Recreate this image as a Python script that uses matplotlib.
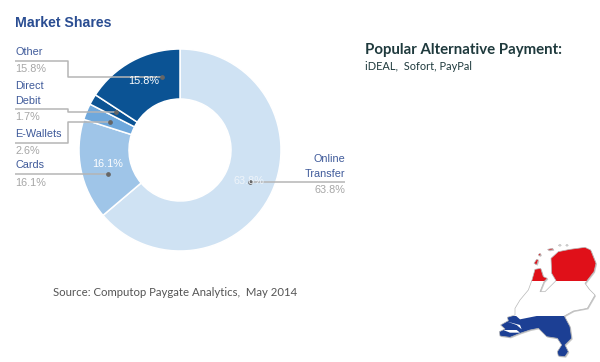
import matplotlib
matplotlib.use("Agg")
import matplotlib.pyplot as plt
from matplotlib.patches import Polygon, Rectangle

# Chart data
categories = ["Online Transfer", "Cards", "E-Wallets", "Direct Debit", "Other"]
shares = [63.8, 16.1, 2.6, 1.7, 15.8]
colors = ["#cfe2f3", "#9fc5e8", "#6fa8dc", "#0b5394", "#0b5394"]

SANS = "Liberation Sans"
NOTE = "Lato"
TEXT_BLUE = "#3f5a9a"
VALUE_GREY = "#a6a6a6"
LINE_GREY = "#b5b5b5"


def py(y):
    # picture pixels count from the top
    return 362 - y


fig = plt.figure(figsize=(6.0, 3.62), dpi=100)
ax = fig.add_axes([0, 0, 1, 1])

ax.pie(shares, colors=colors, center=(180, py(150)), radius=101, startangle=90,
       counterclock=False, wedgeprops=dict(width=50, edgecolor="white", linewidth=1.1))
ax.set_xlim(0, 600)
ax.set_ylim(0, 362)
ax.set_aspect("equal")
ax.axis("off")

ax.text(15, py(23), "Market Shares", fontsize=10.2, fontweight="bold", color="#2a4d92",
        family=SANS, va="center")


def leader(xs, ys):
    ax.plot(xs, [py(y) for y in ys], color=LINE_GREY, lw=1.1, zorder=5, solid_capstyle="butt")
    ax.plot(xs[-1], py(ys[-1]), "o", color="#666666", ms=2.4, zorder=6)


def label(x, y, text, color=TEXT_BLUE, ha="left"):
    ax.text(x, py(y), text, fontsize=7.8, color=color, family=SANS, ha=ha, va="center", zorder=7)


# Other
label(15, 52, "Other")
label(15, 69, f"{shares[4]}%", VALUE_GREY)
leader([15, 68, 68, 162], [61, 61, 76.5, 76.5])
label(128, 81, f"{shares[4]}%", "white")

# Direct Debit
label(15, 86, "Direct")
label(15, 101, "Debit")
label(15, 117, f"{shares[3]}%", VALUE_GREY)
leader([15, 68, 68, 116], [108.5, 108.5, 112, 112])

# E-Wallets
label(15, 134, "E-Wallets")
label(15, 151, f"{shares[2]}%", VALUE_GREY)
leader([15, 68, 68, 110], [143, 143, 122, 122])

# Cards
label(15, 165, "Cards")
label(15, 183, f"{shares[1]}%", VALUE_GREY)
leader([15, 108], [174, 174])
label(92, 164, f"{shares[1]}%", "white")

# Online Transfer
label(345, 159, "Online", ha="right")
label(345, 174, "Transfer", ha="right")
label(345, 190, f"{shares[0]}%", VALUE_GREY, ha="right")
label(233, 181, f"{shares[0]}%", "#eef4fa")
leader([345, 250], [182, 182])

# Right hand note and source
ax.text(365, py(50), "Popular Alternative Payment:", fontsize=10.8, fontweight="bold",
        color="#1f3a3d", family=NOTE, va="center")
ax.text(365, py(67), "iDEAL,  Sofort, PayPal", fontsize=7.9, color="#1f3a3d",
        family=NOTE, va="center")
ax.text(53, py(292), "Source: Computop Paygate Analytics,  May 2014", fontsize=8.2,
        color="#555555", family=NOTE, va="center")


# Netherlands flag map, outline in crop coordinates of the lower right corner
def map_xy(pts, dx=0, dy=0):
    return [(470 + x / 3 + dx, py(230 + y / 3 + dy)) for x, y in pts]


outline = [(243, 85), (265, 65), (300, 58), (345, 52), (362, 60), (378, 100), (372, 125),
           (345, 160), (358, 178), (375, 195), (352, 235), (310, 243), (283, 258), (300, 290),
           (305, 325), (285, 345), (295, 365), (285, 380), (265, 378), (262, 365), (275, 345),
           (262, 325), (230, 320), (205, 295), (180, 300), (150, 310), (120, 322), (90, 318),
           (88, 305), (105, 297), (92, 285), (115, 272), (112, 262), (135, 255), (135, 235),
           (150, 210), (175, 180), (186, 150), (195, 118), (212, 115), (220, 140), (232, 145),
           (222, 155), (210, 185), (225, 185), (258, 152), (245, 130)]
islands = [[(192, 100), (200, 88), (205, 90), (200, 104)],
           [(205, 74), (210, 70), (213, 74), (208, 78)],
           [(233, 58), (248, 55), (250, 59), (236, 61)]]
dots = [[(265, 46), (270, 43), (274, 46), (270, 49)],
        [(287, 46), (291, 43), (295, 46), (291, 49)]]

for pts in [outline] + islands:
    ax.add_patch(Polygon(map_xy(pts, 1, 1), closed=True, fc="#c8c8c8", ec="none", zorder=2))

bands = [(230, 281, "#e01019"), (281, 316, "white"), (316, 362, "#1c3f94")]
for pts in [outline] + islands:
    for top, bottom, col in bands:
        band = Rectangle((470, py(bottom)), 130, bottom - top, fc=col, ec="none", zorder=3)
        ax.add_patch(band)
        band.set_clip_path(Polygon(map_xy(pts), closed=True, transform=ax.transData))
    ax.add_patch(Polygon(map_xy(pts), closed=True, fc="none", ec="#b8b8b8", lw=0.5, zorder=4))

for pts in dots:
    ax.add_patch(Polygon(map_xy(pts), closed=True, fc="#dddddd", ec="#b8b8b8", lw=0.4, zorder=4))

# Zeeland water cuts
for cut in ([(112, 275), (150, 285), (155, 298), (140, 285)],
            [(100, 300), (140, 300), (150, 308), (120, 308)],
            [(135, 255), (200, 258), (150, 268)]):
    ax.add_patch(Polygon(map_xy(cut), closed=True, fc="white", ec="none", zorder=4))

fig.savefig("out.png", dpi=100)
plt.close(fig)
